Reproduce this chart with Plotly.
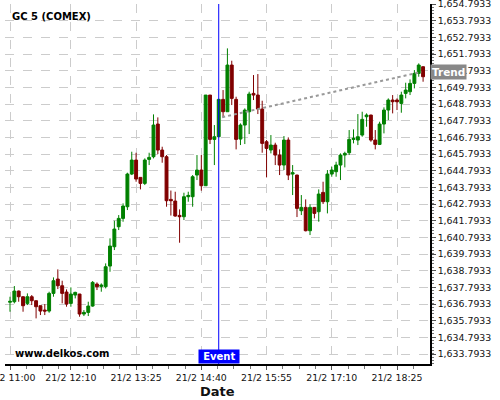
import plotly.graph_objects as go
import datetime as dt

day = "2013-02-21"
times = [
    "11:00", "11:05", "11:10", "11:15", "11:20", "11:25", "11:30", "11:35", "11:40", "11:45", "11:50", "11:55",
    "12:00", "12:05", "12:10", "12:15", "12:20", "12:25", "12:30", "12:35", "12:40", "12:45", "12:50", "12:55",
    "13:00", "13:05", "13:10", "13:15", "13:20", "13:25", "13:30", "13:35", "13:40", "13:45", "13:50", "13:55",
    "14:00", "14:05", "14:10", "14:15", "14:20", "14:25", "14:30", "14:35", "14:40", "14:45", "14:50", "14:55",
    "15:00", "15:05", "15:10", "15:15", "15:20", "15:25", "15:30", "15:35", "15:40", "15:45", "15:50", "15:55",
    "16:00", "16:05", "16:10", "16:15", "16:20", "16:25", "16:30", "16:35", "16:40", "16:45", "16:50", "16:55",
    "17:00", "17:05", "17:10", "17:15", "17:20", "17:25", "17:30", "17:35", "17:40", "17:45", "17:50", "17:55",
    "18:00", "18:05", "18:10", "18:15", "18:20", "18:25", "18:30", "18:35", "18:40", "18:45", "18:50", "18:55",
]

open_ = [
    1636.90, 1636.93, 1637.57, 1637.23, 1636.83, 1637.23, 1636.99, 1636.69, 1636.43, 1636.37, 1637.43, 1638.29,
    1637.89, 1637.51, 1636.83, 1637.33, 1637.39, 1636.19, 1636.29, 1636.67, 1637.99, 1637.85, 1637.83, 1639.07,
    1640.23, 1641.43, 1641.93, 1642.63, 1644.59, 1645.43, 1644.39, 1644.03, 1645.47, 1645.63, 1647.59, 1646.03,
    1645.63, 1643.07, 1642.97, 1642.11, 1642.03, 1643.23, 1643.23, 1644.53, 1644.83, 1643.89, 1649.33, 1646.67,
    1646.83, 1649.07, 1648.33, 1651.13, 1649.07, 1646.69, 1647.53, 1648.33, 1649.43, 1649.33, 1648.49, 1646.53,
    1646.03, 1646.33, 1645.73, 1645.13, 1646.63, 1644.59, 1644.53, 1642.39, 1642.59, 1641.19, 1642.59, 1642.33,
    1643.49, 1642.93, 1644.59, 1644.73, 1645.13, 1645.73, 1645.87, 1646.67, 1646.63, 1646.93, 1648.03, 1648.13,
    1646.63, 1646.37, 1647.59, 1648.43, 1649.03, 1649.03, 1648.83, 1649.43, 1649.53, 1650.03, 1650.63, 1651.03,
]
high = [
    1637.23, 1637.87, 1637.60, 1637.25, 1637.43, 1637.33, 1637.00, 1636.70, 1636.79, 1637.53, 1638.39, 1638.87,
    1638.19, 1637.67, 1637.79, 1637.53, 1637.40, 1636.43, 1636.93, 1638.17, 1638.09, 1638.03, 1639.23, 1640.73,
    1641.79, 1642.13, 1642.83, 1644.67, 1645.93, 1645.87, 1644.40, 1645.53, 1645.87, 1648.17, 1647.99, 1646.23,
    1645.73, 1643.60, 1643.53, 1642.47, 1643.47, 1643.53, 1644.53, 1645.73, 1645.73, 1649.33, 1649.33, 1647.53,
    1649.10, 1649.63, 1652.13, 1651.39, 1649.23, 1647.63, 1648.53, 1649.53, 1650.53, 1650.59, 1648.99, 1646.63,
    1646.93, 1646.47, 1646.07, 1646.87, 1646.79, 1645.13, 1644.55, 1643.33, 1643.07, 1642.79, 1642.60, 1643.67,
    1644.13, 1644.83, 1645.03, 1645.33, 1645.83, 1645.93, 1647.23, 1647.27, 1648.19, 1648.33, 1648.23, 1648.15,
    1647.23, 1647.73, 1648.59, 1649.13, 1649.33, 1649.13, 1649.53, 1650.07, 1650.27, 1650.83, 1651.23, 1651.05,
]
low = [
    1636.33, 1636.83, 1636.93, 1636.33, 1636.73, 1636.73, 1635.93, 1636.13, 1636.13, 1636.27, 1637.23, 1637.69,
    1636.83, 1636.63, 1636.63, 1637.13, 1636.03, 1636.07, 1636.07, 1636.63, 1637.63, 1637.53, 1637.73, 1638.73,
    1640.03, 1641.23, 1641.73, 1642.43, 1644.53, 1644.13, 1643.67, 1643.93, 1645.13, 1645.53, 1645.79, 1645.27,
    1642.63, 1642.10, 1642.03, 1640.47, 1641.83, 1642.93, 1642.63, 1644.23, 1643.59, 1643.89, 1646.39, 1645.13,
    1646.80, 1647.99, 1648.33, 1648.73, 1646.07, 1646.33, 1646.39, 1646.99, 1649.03, 1648.19, 1645.87, 1644.39,
    1645.83, 1645.13, 1644.53, 1644.83, 1644.23, 1643.33, 1642.01, 1642.13, 1641.15, 1640.93, 1641.93, 1641.73,
    1642.79, 1642.23, 1644.43, 1644.43, 1644.23, 1644.99, 1645.73, 1646.43, 1646.33, 1646.83, 1647.43, 1646.53,
    1646.07, 1646.33, 1647.03, 1647.83, 1648.23, 1648.43, 1648.27, 1649.13, 1649.33, 1649.73, 1650.43, 1650.13,
]
close = [
    1636.95, 1637.57, 1637.23, 1636.69, 1637.23, 1636.99, 1636.63, 1636.37, 1636.37, 1637.43, 1638.19, 1637.89,
    1637.43, 1636.79, 1637.39, 1637.49, 1636.19, 1636.29, 1636.67, 1638.09, 1637.83, 1637.93, 1639.03, 1640.27,
    1641.29, 1641.93, 1642.67, 1644.59, 1645.43, 1644.29, 1644.03, 1645.43, 1645.59, 1647.53, 1646.03, 1645.63,
    1642.99, 1642.99, 1642.07, 1642.03, 1643.23, 1643.31, 1644.43, 1644.83, 1643.89, 1649.33, 1646.67, 1646.83,
    1649.07, 1648.33, 1651.13, 1649.13, 1646.67, 1647.53, 1648.43, 1649.39, 1649.33, 1648.49, 1646.43, 1646.13,
    1646.33, 1645.73, 1645.13, 1646.63, 1644.53, 1644.67, 1642.53, 1642.59, 1641.19, 1642.59, 1642.23, 1643.39,
    1642.93, 1644.59, 1644.83, 1645.13, 1645.73, 1645.83, 1646.67, 1646.73, 1646.83, 1647.87, 1648.13, 1646.63,
    1646.37, 1647.59, 1648.43, 1649.03, 1648.93, 1648.93, 1649.33, 1649.63, 1650.03, 1650.63, 1651.13, 1650.43,
]

x_tick_times = ["11:00", "12:10", "13:25", "14:40", "15:55", "17:10", "18:25"]
x_tick_labels = ["21/2 11:00", "21/2 12:10", "21/2 13:25", "21/2 14:40", "21/2 15:55", "21/2 17:10", "21/2 18:25"]
y_tick_first = 1633.7933
y_range = [1633.1933, 1654.7933]
x_range = ["10:54:15", "19:02:57"]

event_time = "15:00"
trend_times = ["15:04", "18:53"]
trend_prices = [1648.00, 1650.72]
trend_label_price = 1650.74

title_text = "GC 5 (COMEX)"
source_text = "www.delkos.com"
x_title = "Date"


def ts(t):
    return f"{day} {t}"


x = [ts(t) for t in times]

# minor ticks: every 18.75 min from 11:00 up to 12:10, then from 12:10 onward
minor = []
t0 = dt.datetime(2013, 2, 21, 11, 0)
t1 = dt.datetime(2013, 2, 21, 12, 10)
tend = dt.datetime(2013, 2, 21, 19, 2)
step = dt.timedelta(minutes=18.75)
t = t0
while t < t1:
    minor.append(t.strftime("%Y-%m-%d %H:%M:%S"))
    t += step
t = t1
while t < tend:
    minor.append(t.strftime("%Y-%m-%d %H:%M:%S"))
    t += step

fig = go.Figure()
fig.add_trace(go.Candlestick(
    x=x, open=open_, high=high, low=low, close=close,
    increasing=dict(line=dict(color="#008000", width=1), fillcolor="#008000"),
    decreasing=dict(line=dict(color="#800000", width=1), fillcolor="#800000"),
    whiskerwidth=0, hoverinfo="skip", showlegend=False,
))

font_family = "DejaVu Sans"
fig.update_layout(
    width=500, height=400,
    margin=dict(l=5, r=70, t=4, b=36, autoexpand=False),
    paper_bgcolor="white", plot_bgcolor="white",
    font=dict(family=font_family, size=10, color="black"),
    showlegend=False,
    boxgap=0.05,
    xaxis=dict(
        type="date",
        automargin=False,
        range=[ts(x_range[0]), ts(x_range[1])],
        rangeslider=dict(visible=False),
        tickmode="array",
        tickvals=[ts(t) for t in x_tick_times],
        ticktext=x_tick_labels,
        ticklabeloverflow="allow",
        ticks="outside", ticklen=4, tickcolor="#555",
        tickfont=dict(size=9.4, color="#111"),
        showgrid=True, gridcolor="#cccccc", griddash="dash", gridwidth=1,
        showline=True, linecolor="black", linewidth=1.5,
        zeroline=False,
        minor=dict(tickmode="array", tickvals=minor, ticks="outside", ticklen=3,
                   tickcolor="#777", showgrid=False),
    ),
    yaxis=dict(
        side="right",
        automargin=False,
        range=y_range,
        tick0=y_tick_first, dtick=1,
        tickformat=",.4f",
        ticklabeloverflow="allow",
        ticks="outside", ticklen=4, tickcolor="#555",
        tickfont=dict(size=9.4, color="#111"),
        showgrid=True, gridcolor="#cccccc", griddash="dash", gridwidth=1,
        showline=True, linecolor="black", linewidth=1.5,
        zeroline=False,
        minor=dict(dtick=0.2, ticks="outside", ticklen=2, tickcolor="#777", showgrid=False),
    ),
)

# trend line
fig.add_shape(type="line", xref="x", yref="y",
              x0=ts(trend_times[0]), y0=trend_prices[0],
              x1=ts(trend_times[1]), y1=trend_prices[1],
              line=dict(color="#999999", width=2, dash="dot"))
# event line
fig.add_shape(type="line", xref="x", yref="paper",
              x0=ts(event_time), x1=ts(event_time), y0=0, y1=1,
              line=dict(color="#0000ff", width=1))

fig.add_annotation(x=ts(event_time), y=0, xref="x", yref="paper",
                   xanchor="center", yanchor="bottom", showarrow=False,
                   text="&nbsp;<b>Event</b>&nbsp;", bgcolor="#0000ff", borderpad=1,
                   font=dict(color="white", size=10, family=font_family))
fig.add_annotation(x=1, y=trend_label_price, xref="paper", yref="y",
                   xanchor="left", yanchor="middle", showarrow=False,
                   text="<b>Trend</b>", bgcolor="#888888", borderpad=1,
                   font=dict(color="white", size=10.5, family=font_family))
fig.add_annotation(x=0.012, y=0.985, xref="paper", yref="paper",
                   xanchor="left", yanchor="top", showarrow=False,
                   text=f"<b>{title_text}</b>",
                   font=dict(color="black", size=10, family=font_family))
fig.add_annotation(x=0.019, y=0.028, xref="paper", yref="paper",
                   xanchor="left", yanchor="middle", showarrow=False,
                   text=f"<b>{source_text}</b>",
                   font=dict(color="black", size=10, family=font_family))
fig.add_annotation(x=0.5, y=-0.075, xref="paper", yref="paper",
                   xanchor="center", yanchor="middle", showarrow=False,
                   text=f"<b>{x_title}</b>",
                   font=dict(color="#111", size=13, family=font_family))

fig.write_html("out.html", config={"displayModeBar": False},
               post_script="document.body.style.margin='0';document.body.style.padding='0';")
